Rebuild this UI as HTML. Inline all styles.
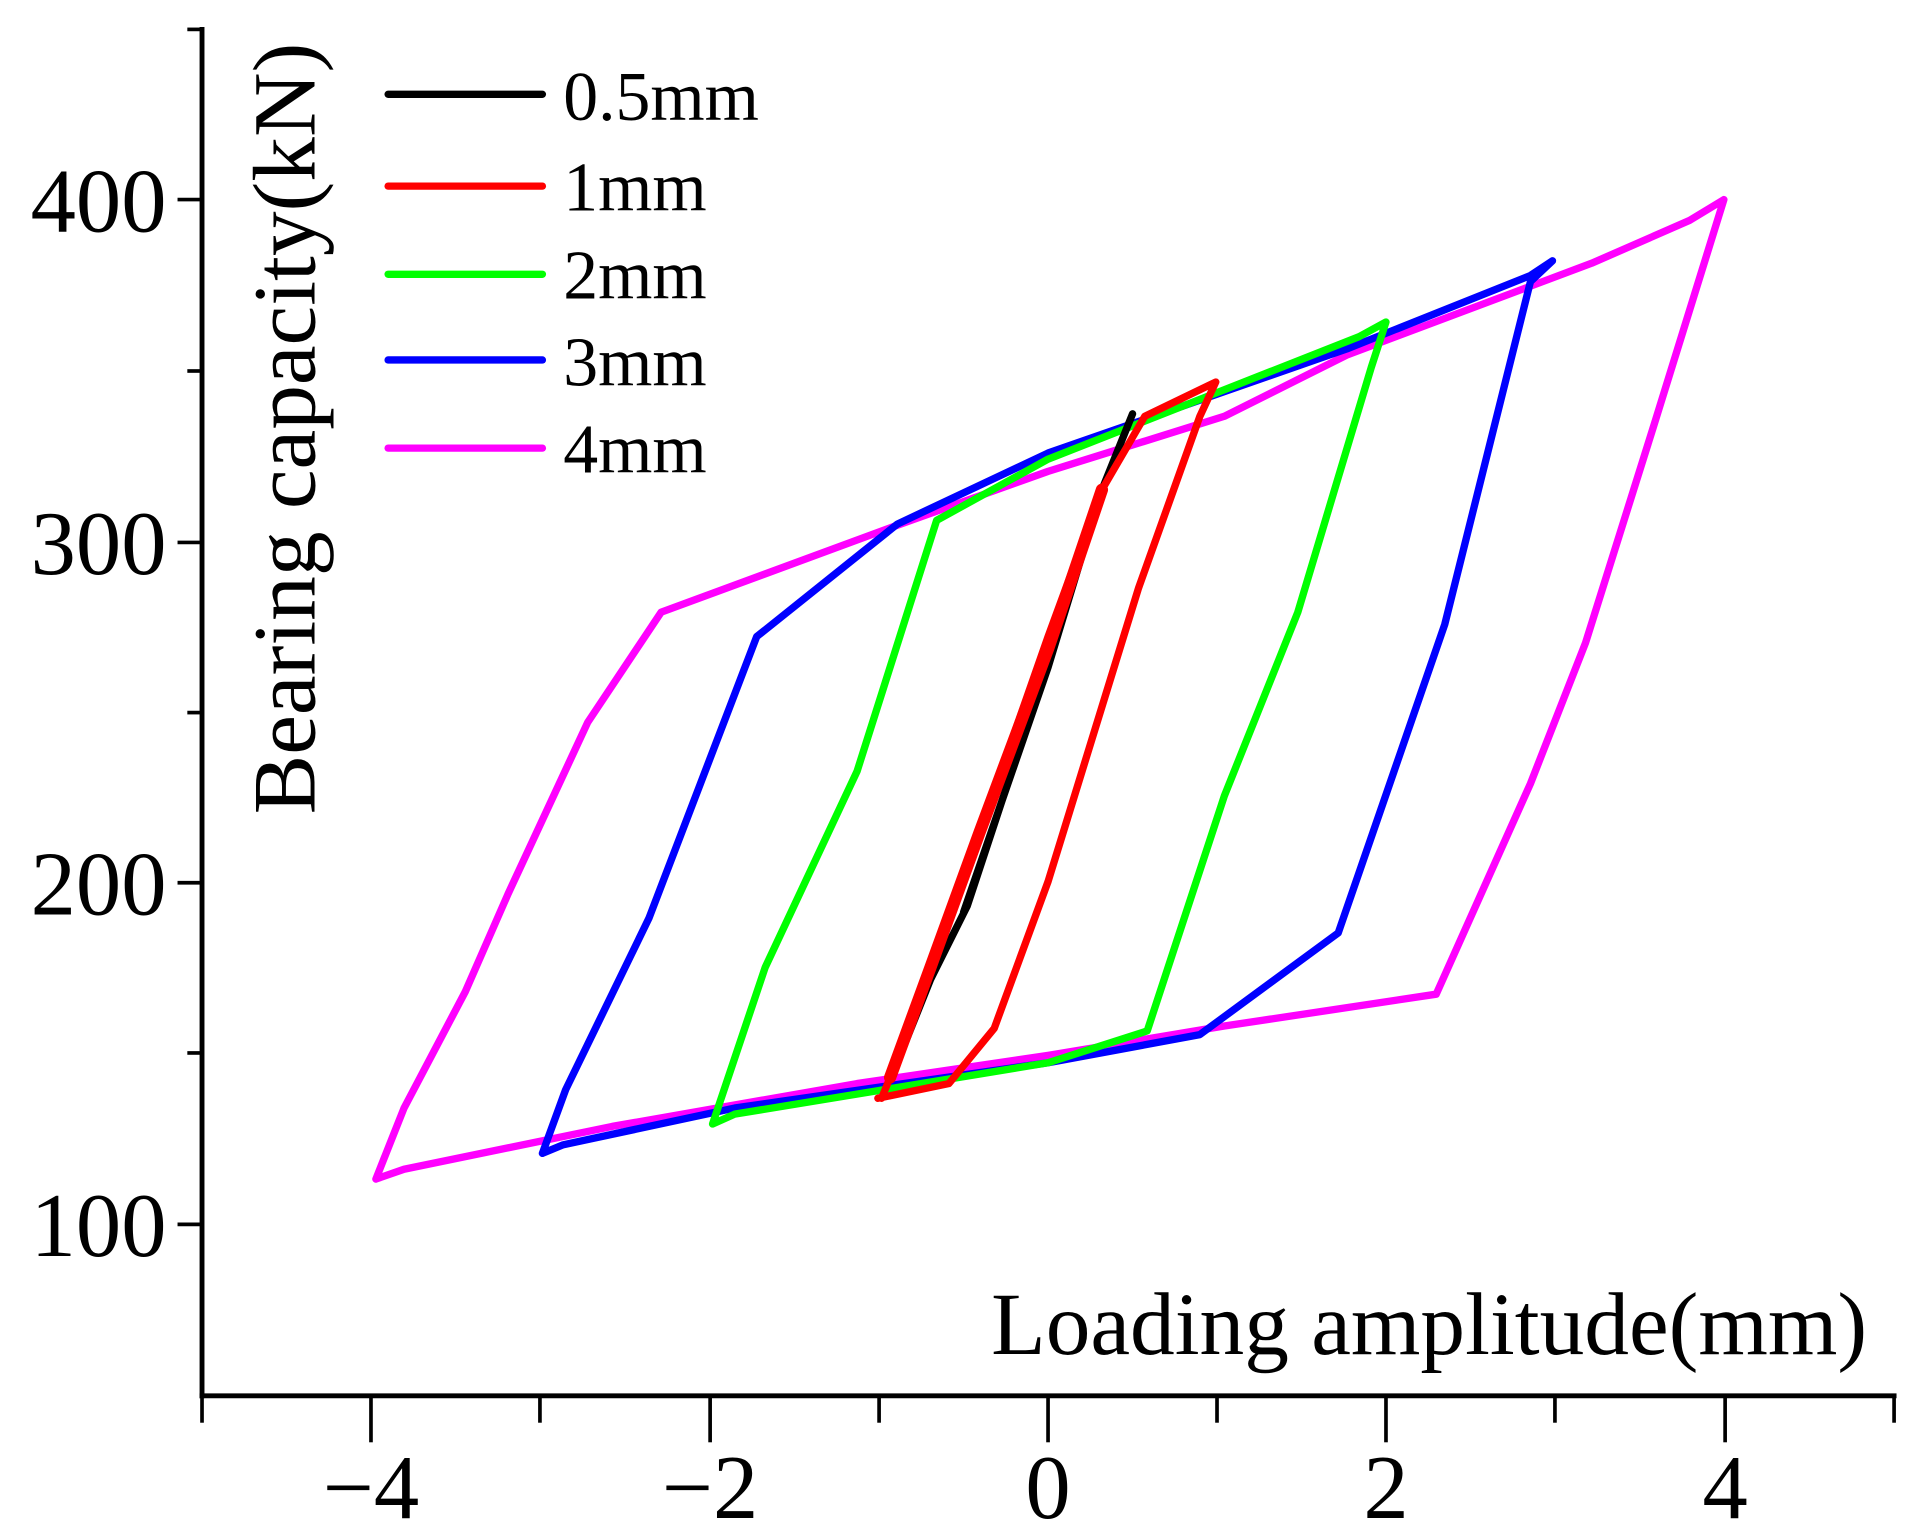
<!DOCTYPE html>
<html><head><meta charset="utf-8"><style>html,body{margin:0;padding:0;background:#fff;}</style></head>
<body>
<svg width="1910" height="1535" viewBox="0 0 1560 1253.7" xmlns="http://www.w3.org/2000/svg" font-family="'Liberation Serif', serif">
<rect width="1560" height="1254" fill="#fff"/>
<g stroke="#000" stroke-width="4" fill="none">
<line x1="165" y1="22" x2="165" y2="1142"/>
<line x1="163" y1="1140" x2="1549" y2="1140"/>
<g stroke-width="3">
<line x1="145" y1="163" x2="165" y2="163"/><line x1="145" y1="443" x2="165" y2="443"/>
<line x1="145" y1="721" x2="165" y2="721"/><line x1="145" y1="1000" x2="165" y2="1000"/>
<line x1="153" y1="24" x2="165" y2="24"/><line x1="153" y1="303" x2="165" y2="303"/>
<line x1="153" y1="582" x2="165" y2="582"/><line x1="153" y1="860" x2="165" y2="860"/>
<line x1="303" y1="1140" x2="303" y2="1178"/><line x1="580" y1="1140" x2="580" y2="1178"/>
<line x1="856" y1="1140" x2="856" y2="1178"/><line x1="1132" y1="1140" x2="1132" y2="1178"/>
<line x1="1409" y1="1140" x2="1409" y2="1178"/>
<line x1="165" y1="1140" x2="165" y2="1162"/><line x1="441" y1="1140" x2="441" y2="1162"/>
<line x1="718" y1="1140" x2="718" y2="1162"/><line x1="994" y1="1140" x2="994" y2="1162"/>
<line x1="1270" y1="1140" x2="1270" y2="1162"/><line x1="1547" y1="1140" x2="1547" y2="1162"/>
</g></g>
<g font-size="74" text-anchor="end" fill="#000">
<text x="136" y="189">400</text><text x="136" y="469">300</text>
<text x="136" y="747">200</text><text x="136" y="1026">100</text>
</g>
<g font-size="74" text-anchor="middle" fill="#000">
<text x="303" y="1240">−4</text><text x="580" y="1240">−2</text><text x="856" y="1240">0</text>
<text x="1132" y="1240">2</text><text x="1409" y="1240">4</text>
</g>
<text x="1525" y="1106" font-size="73" text-anchor="end">Loading amplitude(mm)</text>
<text transform="translate(257,350) rotate(-90)" font-size="73" text-anchor="middle">Bearing capacity(kN)</text>
<g stroke-width="6" stroke-linecap="round" stroke-linejoin="round" fill="none">
<polyline stroke="#ff00ff" points="307,963 330,955 500,920 700,885 856,862 1000,838 1173,812 1250,640 1295,525 1350,350 1408,163 1380,180 1300,215 1100,290 1000,340 856,385 730,430 540,500 480,590 415,730 380,810 330,905 307,963"/>
<polyline stroke="#0000ff" points="443,942 460,935 600,905 856,868 980,845 1093,762 1180,510 1250,230 1268,213 1250,225 1100,285 856,370 733,428 618,520 530,750 462,890 443,942"/>
<polyline stroke="#00ff00" points="582,918 600,910 856,868 937,842 1000,650 1060,500 1120,300 1132,263 1110,275 856,375 765,425 700,630 625,790 582,918"/>
<polyline stroke="#000" points="730,875 760,800 790,740 856,540 900,400 925,338 900,400 856,545 787,745"/>
<polyline stroke="#ff0000" points="717,897 775,885 812,840 856,720 930,480 980,340 993,312 935,340 900,400 856,520 800,680 760,790 727,880 720,897"/>
<polyline stroke="#ff0000" stroke-width="10" points="727,880 760,790 800,680 856,530 900,400"/>
</g>
<g stroke-width="6" stroke-linecap="round">
<line x1="317" y1="77" x2="443" y2="77" stroke="#000"/>
<line x1="317" y1="152" x2="443" y2="152" stroke="#ff0000"/>
<line x1="317" y1="224" x2="443" y2="224" stroke="#00ff00"/>
<line x1="317" y1="294" x2="443" y2="294" stroke="#0000ff"/>
<line x1="317" y1="366" x2="443" y2="366" stroke="#ff00ff"/>
</g>
<g font-size="57" fill="#000">
<text x="460" y="98">0.5mm</text><text x="460" y="172">1mm</text><text x="460" y="244">2mm</text>
<text x="460" y="315">3mm</text><text x="460" y="386">4mm</text>
</g>
</svg>
</body></html>
